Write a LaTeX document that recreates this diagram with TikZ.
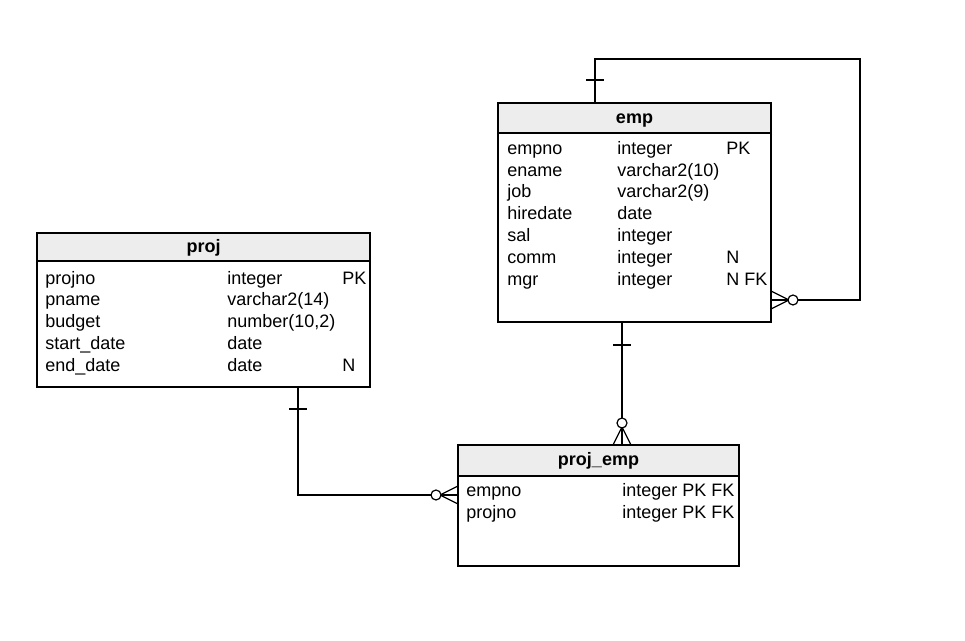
\documentclass[tikz,border=0pt]{standalone}
\usepackage{fontspec}
\setmainfont{Liberation Sans}
\begin{document}
\begin{tikzpicture}[x=0.75pt,y=-0.75pt,
  tbl/.style={draw,line width=0.9pt},
  hdr/.style={draw,line width=0.9pt,fill=black!7},
  txt/.style={anchor=base west,inner sep=0,font=\fontsize{13.5}{15}\selectfont},
  ttl/.style={anchor=base,inner sep=0,font=\fontsize{13.5}{15}\selectfont\bfseries},
  ln/.style={line width=0.9pt},
  circ/.style={draw,fill=white,line width=0.9pt,circle,minimum size=7.5pt,inner sep=0}]
\useasboundingbox (0,0) rectangle (965,641);
% emp
\draw[tbl] (498,103) rectangle (771,322);
\draw[hdr] (498,103) rectangle (771,133);
\node[ttl] (emp) at (634.5,124) {emp};
\foreach \y/\a/\b/\c in {148/empno/integer/PK,170/ename/varchar2(10)/,191/job/varchar2(9)/,213/hiredate/date/,235/sal/integer/,257/comm/integer/N,279/mgr/integer/N FK}{
  \node[txt] at (507,\y+6.5) {\a}; \node[txt] at (617,\y+6.5) {\b}; \node[txt] at (726,\y+6.5) {\c};}
% proj
\draw[tbl] (37,233) rectangle (370,387);
\draw[hdr] (37,233) rectangle (370,261);
\node[ttl] (proj) at (203.5,253) {proj};
\foreach \y/\a/\b/\c in {278/projno/integer/PK,299/pname/varchar2(14)/,321/budget/number(10{,}2)/,343/start\_date/date/,365/end\_date/date/N}{
  \node[txt] at (45,\y+6.5) {\a}; \node[txt] at (227,\y+6.5) {\b}; \node[txt] at (342,\y+6.5) {\c};}
% proj_emp
\draw[tbl] (458,445) rectangle (739,566);
\draw[hdr] (458,445) rectangle (739,476);
\node[ttl] (pe) at (598.5,466) {proj\_emp};
\foreach \y/\a/\b in {490/empno/integer PK FK,512/projno/integer PK FK}{
  \node[txt] at (466,\y+6.5) {\a}; \node[txt] at (622,\y+6.5) {\b};}
% self loop
\coordinate (s1) at (595,103); \coordinate (s2) at (771,300);
\draw[ln] (s1) -- (595,59) -- (860,59) -- (860,300) -- (s2);
\draw[ln] (586,80) -- (604,80);
\draw[ln] (771,291) -- (789,300) -- (771,309);
\node[circ] at (793,300) {};
% emp - proj_emp
\coordinate (e1) at (622,322); \coordinate (e2) at (622,445);
\draw[ln] (e1) -- (e2);
\draw[ln] (613,345) -- (631,345);
\draw[ln] (613,445) -- (622,427) -- (631,445);
\node[circ] at (622,423) {};
% proj - proj_emp
\coordinate (p1) at (298,387); \coordinate (p2) at (458,495);
\draw[ln] (p1) -- (298,495) -- (p2);
\draw[ln] (289,409) -- (307,409);
\draw[ln] (458,486) -- (440,495) -- (458,504);
\node[circ] at (436,495) {};
\end{tikzpicture}
\end{document}
